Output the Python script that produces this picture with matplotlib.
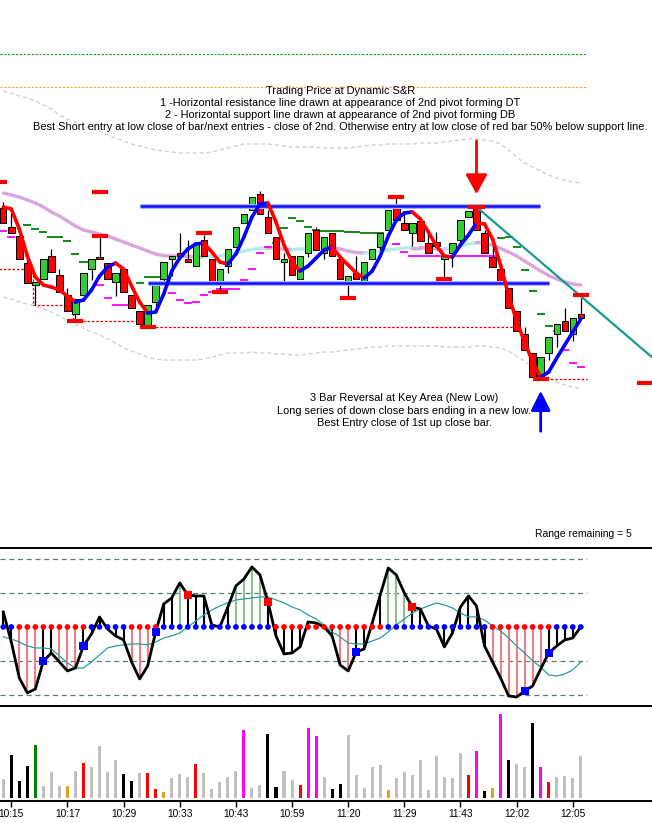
import numpy as np
import matplotlib
matplotlib.use("Agg")
import matplotlib.pyplot as plt

plt.rcParams['font.family'] = ['Liberation Sans', 'DejaVu Sans']

# ---------------- price bars (one per minute bar) ----------------
opens = [392, 373, 364, 337, 315, 321, 344, 325, 305, 286,
         305, 331, 343, 337, 318, 331, 305, 289, 274, 298,
         321, 341, 347, 341, 334, 360, 341, 315, 334, 353,
         377, 390, 406, 383, 363, 338, 344, 321, 347, 370,
         347, 367, 341, 318, 327, 318, 341, 353, 370, 393,
         377, 367, 379, 357, 358, 341, 347, 360, 383, 393,
         367, 343, 331, 312, 289, 266, 247, 223, 247, 266,
         279, 266, 286]
closes = [377, 367, 341, 317, 318, 341, 328, 308, 289, 301,
          327, 341, 341, 321, 327, 308, 292, 276, 295, 317,
          338, 344, 344, 338, 357, 344, 318, 331, 351, 373,
          386, 403, 386, 367, 341, 341, 325, 344, 367, 350,
          363, 344, 321, 324, 321, 338, 351, 367, 390, 380,
          370, 377, 359, 347, 354, 344, 357, 380, 389, 370,
          347, 333, 315, 292, 269, 250, 223, 243, 263, 276,
          269, 282, 282]
highs = [398, 387, 364, 341, 318, 341, 351, 331, 312, 301,
         327, 341, 363, 337, 327, 331, 305, 289, 295, 317,
         338, 344, 367, 360, 357, 365, 341, 331, 351, 373,
         386, 403, 409, 390, 363, 347, 344, 344, 367, 373,
         363, 367, 341, 324, 344, 338, 351, 367, 390, 402,
         388, 377, 379, 367, 368, 344, 357, 380, 389, 393,
         370, 355, 331, 312, 289, 273, 247, 243, 263, 276,
         292, 282, 302]
lows = [377, 367, 341, 317, 295, 321, 328, 308, 289, 280,
        305, 320, 341, 321, 304, 308, 292, 276, 274, 294,
        316, 324, 344, 338, 334, 344, 318, 310, 327, 353,
        377, 390, 386, 367, 341, 317, 325, 321, 343, 350,
        341, 344, 321, 303, 321, 315, 341, 350, 370, 380,
        370, 354, 359, 347, 353, 322, 333, 357, 383, 370,
        347, 333, 315, 292, 269, 250, 222, 222, 240, 253,
        269, 259, 282]

# fast trend average (red falling / blue rising)
trend = [393, 391, 371, 344, 323, 315, 313, 310, 304, 298,
         300, 310, 324, 333, 337, 331, 314, 298, 287, 288,
         306, 329, 342, 351, 356, 357, 348, 338, 336, 346,
         363, 383, 396, 397, 378, 355, 338, 329, 334, 342,
         350, 353, 343, 335, 327, 322, 329, 344, 364, 380,
         387, 388, 381, 368, 354, 344, 343, 355, 365, 377,
         376, 361, 335, 305, 279, 258, 238, 223, 228, 242,
         255, 268, 281]

# slow average (plum falling / pale cyan rising)
mid = [407, 405, 403, 400, 397, 393, 388, 384, 379, 374,
       370, 368, 366, 364, 361, 358, 355, 352, 349, 346,
       344.5, 344, 343.7, 343.5, 343.4, 343.3, 343.6, 344, 345, 347,
       349, 350.5, 351.5, 352, 351.5, 351, 350.5, 351, 351.5, 352,
       352.5, 353, 351, 349, 347.5, 347, 348, 349, 350, 351,
       352, 352.5, 352.5, 352, 351.5, 351.5, 352, 354, 356, 357.5,
       357, 355, 351.5, 348, 344, 339, 334, 329, 324.5, 321,
       318, 316, 315]

upper = [509, 507, 504, 502, 499, 495, 491, 485, 481, 478,
         474, 471, 469, 465, 462, 459, 456, 454, 452, 450,
         449, 448, 447, 447, 447, 447, 448, 450, 452, 454,
         456, 456, 456, 456, 455, 454, 453, 453, 453, 453,
         452, 452, 452, 452, 453, 454, 455, 455, 456, 456,
         456, 456, 457, 457, 457, 458, 459, 460, 461, 461,
         460, 459, 456, 450, 443, 437, 433, 429, 425, 422,
         420, 418, 417]
lower = [303, 301, 298, 296, 294, 291, 288, 284, 280, 276,
         272, 268, 265, 261, 257, 252, 249, 246, 243, 241,
         240, 240, 240, 240, 240, 241, 243, 245, 247, 247,
         247, 248, 247, 247, 246, 246, 245, 245, 246, 247,
         248, 248, 249, 250, 251, 252, 253, 253, 254, 254,
         254, 254, 254, 254, 254, 253, 253, 253, 253, 254,
         254, 253, 252, 249, 244, 239, 233, 228, 222, 218,
         215, 213, 211]

# short level marks
green_bars = [3, 4, 5, 6, 7, 8, 9, 10, 17, 18, 19, 20, 34, 35, 36, 37, 38, 39,
              40, 41, 42, 43, 44, 45, 46, 47, 62, 63, 64, 65, 66, 67, 68]
green_lvls = [375, 371, 368, 363, 363, 359, 346, 338, 317, 323, 323, 323, 357, 372,
              382, 379, 373, 370, 369, 369, 369, 368, 368, 367, 367, 367, 362, 363,
              353, 330, 309, 286, 274]
mag_bars = [0, 1, 11, 12, 13, 14, 15, 16, 20, 21, 22, 23, 24, 25, 26, 27, 28, 29,
            30, 31, 32, 33, 49, 50, 51, 52, 53, 54, 55, 56, 57, 58, 59, 60, 61,
            69, 70, 71, 72]
mag_lvls = [369, 363, 335, 315, 302, 295, 295, 295, 321, 307, 300, 297, 298, 305,
            308, 311, 311, 311, 320, 331, 347, 353, 356, 348, 344, 344, 344, 344,
            344, 344, 344, 344, 344, 344, 344, 269, 250, 237, 233]

# pivot marks
pivot_bars = [-0.5, 12, 12, 9, 18, 25, 27, 43, 49, 55, 59, 67, 72, 80]
pivot_lvls = [418, 408, 364, 279, 273, 367, 308, 302, 403, 321, 393, 221, 305, 217]

# stepped support (dotted)
sup_bars = [-0.5, 3.7, 8.7, 17.0, 64.0]
sup_lvls = [331, 295, 279, 273, 273]
low_bars = [66.0, 72.8]
low_lvls = [221, 221]

resist_lvl, resist_span = 394, (17.0, 66.9)
support_lvl, support_span = 317, (18.0, 68.0)
trendline_bars = [59, 81]
trendline_lvls = [393, 242]
top_green_lvl = 546
top_orange_lvl = 513

# ---------------- oscillator ----------------
osc = [15, -15, -51, -66, -62, -34, -26, -35, -44, -41,
       -19, -7, 10, -2, -9, -13, -35, -52, -39, -5,
       23, 29, 44, 32, 31, 31, 2, 0, 20, 41,
       48, 60, 52, 25, -9, -27, -26, -20, 5, 4,
       0, -9, -38, -44, -25, -22, 4, 32, 59, 52,
       34, 20, 18, 1, -2, -20, -6, 20, 31, 21,
       -19, -35, -51, -69, -70, -64, -59, -42, -26, -19,
       -13, -11, 0]
signal = [-10, -12, -15, -19, -21, -21, -22, -29, -36, -41,
          -41, -35, -28, -21, -19, -18, -17, -17, -18, -15,
          -11, -9, -6, 0, 6, 12, 17, 21, 24, 27,
          28, 29, 30, 30, 27, 24, 20, 17, 12, 8,
          2, -5, -10, -16, -17, -17, -14, -11, -5, 2,
          8, 14, 18, 21, 24, 22, 19, 14, 10, 10,
          7, 1, -4, -11, -19, -26, -34, -40, -48, -49,
          -47, -43, -35]
stem_codes = ("kkrrrkkrrr" "kkkkkkrrrk" "kkgkkkkkkg" "gggkkkkkkk"
              "kkrrkkkkgg" "gkkkkkkkkk" "krrrrrrrkk" "kkk")
dot_codes = ("bbrrrrrrrr" "rbbbbbrrrr" "bbbbbbbbbb" "bbbbrrrrrr"
             "rrrrrrrrbb" "bbbbbbbbbb" "brrrrrrrrb" "bbb")
sig_bars = [5, 10, 19, 23, 33, 44, 51, 65, 68]
sig_codes = "bbbrrbrbb"
osc_levels = [68, 34, -34, -68]

# ---------------- volume ----------------
volume = [1900, 4300, 1700, 3200, 5300, 1200, 2600, 1200, 1200, 2700,
          3500, 3100, 5200, 2600, 3800, 2400, 1700, 2500, 2500, 900,
          600, 2000, 2400, 2100, 3400, 2500, 900, 1600, 2100, 2700,
          6800, 1000, 1300, 6400, 1100, 2700, 1800, 1300, 7000, 6200,
          2100, 900, 1400, 6300, 2300, 1000, 3100, 3300, 800, 2000,
          2600, 2300, 3800, 800, 4200, 2100, 2000, 4500, 2300, 4700,
          700, 1000, 8400, 3800, 3400, 3100, 7500, 3100, 1600, 2100,
          2200, 2000, 4200]
vol_codes = ("akkkgaaaoa" "raaaakkarr" "oaaaraaaaa" "maakkaarmm"
             "akkaaaaaoa" "aaaaaaaarm" "komkaakmra" "aaa")

tick_bars = [1, 8, 15, 22, 29, 36, 43, 50, 57, 64, 71]
tick_labels = ['10:15', '10:17', '10:29', '10:33', '10:43', '10:59',
               '11:20', '11:29', '11:43', '12:02', '12:05']

note_top = ["Trading Price at Dynamic S&R",
            "1 -Horizontal resistance line drawn at appearance of 2nd pivot forming DT",
            "2 - Horizontal support line drawn at appearance of 2nd pivot forming DB",
            "Best Short entry at low close of bar/next entries - close of 2nd. "
            "Otherwise entry at low close of red bar 50% below support line."]
note_low = ["3 Bar Reversal at Key Area (New Low)",
            "Long series of down close bars ending in a new low.",
            "Best Entry close of 1st up close bar."]

# ---------------- figure ----------------
XMIN, XMAX = -0.41, 80.88
fig = plt.figure(figsize=(6.52, 8.23), dpi=100)
ax = fig.add_axes([0, 0.3341, 1, 0.6659])
ax_osc = fig.add_axes([0, 0.1422, 1, 0.1908])
ax_vol = fig.add_axes([0, 0.0267, 1, 0.1155])

bars = np.arange(len(opens))
o = np.array(opens)
c = np.array(closes)

# bands and slow average
ax.plot(bars, upper, color='#d2d2d2', lw=1, ls=(0, (3, 2)), zorder=1)
ax.plot(bars, lower, color='#d2d2d2', lw=1, ls=(0, (3, 2)), zorder=1)
for i in range(len(mid) - 1):
    col = '#dba6dc' if mid[i + 1] <= mid[i] else '#b2ecec'
    ax.plot([i, i + 1], [mid[i], mid[i + 1]], color=col, lw=2.4,
            solid_capstyle='round', zorder=2)

# top reference lines
ax.hlines(top_green_lvl, XMIN, 72.6, colors='#00a000', lw=0.8, linestyles=(0, (2, 1.5)))
ax.hlines(top_orange_lvl, XMIN, 72.6, colors='#f0a830', lw=0.8, linestyles=(0, (2, 1.5)))

# level marks
ax.hlines(green_lvls, np.array(green_bars) - 0.5, np.array(green_bars) + 0.5,
          colors='#008000', lw=1.3, zorder=3)
ax.hlines(mag_lvls, np.array(mag_bars) - 0.5, np.array(mag_bars) + 0.5,
          colors='#ff00ff', lw=1.3, zorder=3)

ax.plot(sup_bars, sup_lvls, drawstyle='steps-post', color='#e00000', lw=0.9,
        ls=(0, (2, 1.5)), zorder=3)
ax.plot(low_bars, low_lvls, color='#e00000', lw=0.9, ls=(0, (2, 1.5)), zorder=3)

# candles
up = c >= o
body_lo = np.minimum(o, c)
body_h = np.maximum(np.abs(c - o), 1.2)
ax.vlines(bars, lows, highs, colors='black', lw=0.9, zorder=4)
ax.bar(bars, body_h, bottom=body_lo, width=0.8,
       color=np.where(up, '#33cc33', '#ff0000'), edgecolor='black', lw=0.7, zorder=5)

# horizontal resistance / support
for lvl, span in [(resist_lvl, resist_span), (support_lvl, support_span)]:
    ax.hlines(lvl, *span, colors='#a8b0ff', lw=3.6, zorder=6)
    ax.hlines(lvl, *span, colors='#1010ff', lw=1.8, zorder=6)

# fast trend line
for i in range(len(trend) - 1):
    col = '#ff0000' if trend[i + 1] < trend[i] else '#0000ff'
    ax.plot([i, i + 1], [trend[i], trend[i + 1]], color=col, lw=2.6,
            solid_capstyle='round', zorder=7)

ax.plot(trendline_bars, trendline_lvls, color='#159a8c', lw=1.6, zorder=6)

ax.hlines(pivot_lvls, np.array(pivot_bars) - 1, np.array(pivot_bars) + 1,
          colors='#ff0000', lw=3, zorder=8)

ax.annotate('', xy=(59, 403), xytext=(59, 462),
            arrowprops=dict(arrowstyle='-|>,head_length=1.0,head_width=0.55',
                            color='#ff0000', lw=2, mutation_scale=12), zorder=9)
ax.annotate('', xy=(67, 212), xytext=(67, 166),
            arrowprops=dict(arrowstyle='-|>,head_length=1.0,head_width=0.5',
                            color='#0000ff', lw=2, mutation_scale=12), zorder=9)

for k, line in enumerate(note_top):
    ax.text(42.0, 509.5 - 12.2 * k, line, ha='center', va='center', fontsize=7.9)
for k, line in enumerate(note_low):
    ax.text(50.0, 202 - 12.5 * k, line, ha='center', va='center', fontsize=7.9)
ax.text(78.3, 66, 'Range remaining = 5', ha='right', va='center', fontsize=7.5)

ax.set_xlim(XMIN, XMAX)
ax.set_ylim(52, 600)
ax.set_xticks([])
ax.set_yticks([])
for s in ['top', 'left', 'right']:
    ax.spines[s].set_visible(False)
ax.spines['bottom'].set_linewidth(1.4)

# ---------------- oscillator panel ----------------
ax_osc.hlines(osc_levels, XMIN, 72.8, colors='#5f7b7b', lw=0.9, linestyles=(0, (4, 3)), zorder=1)
stem_col = {'k': 'black', 'r': '#f08080', 'g': '#8fbf8f'}
for i, v in enumerate(osc):
    ax_osc.vlines(i, 0, v, colors=stem_col[stem_codes[i]], lw=1.5, zorder=2)
ax_osc.plot(bars, signal, color='#2a9d9d', lw=0.9, zorder=3)
ax_osc.plot(bars, osc, color='black', lw=2, zorder=4)
dot_col = {'b': '#0000ff', 'r': '#ff0000'}
ax_osc.scatter(bars, np.zeros(len(bars)), s=17, c=[dot_col[k] for k in dot_codes],
               linewidths=0, zorder=5)
ax_osc.scatter(sig_bars, [osc[b] for b in sig_bars], s=34, marker='s',
               c=[dot_col[k] for k in sig_codes], linewidths=0, zorder=6)
ax_osc.set_xlim(XMIN, XMAX)
ax_osc.set_ylim(-79, 78)
ax_osc.set_xticks([])
ax_osc.set_yticks([])
for s in ax_osc.spines.values():
    s.set_visible(False)

# ---------------- volume panel ----------------
vol_col = {'a': '#c0c0c0', 'k': 'black', 'g': '#008000', 'o': '#daa520',
           'r': '#ff0000', 'm': '#ff00ff'}
ax_vol.bar(bars, volume, width=0.38, color=[vol_col[k] for k in vol_codes])
ax_vol.set_xlim(XMIN, XMAX)
ax_vol.set_ylim(-300, 9200)
ax_vol.set_yticks([])
ax_vol.set_xticks(tick_bars)
ax_vol.set_xticklabels(tick_labels)
ax_vol.tick_params(axis='x', direction='out', length=4, width=1, labelsize=7.3, pad=2)
for s in ['left', 'right']:
    ax_vol.spines[s].set_visible(False)
ax_vol.spines['top'].set_linewidth(1.4)
ax_vol.spines['bottom'].set_linewidth(1.4)

fig.savefig('out.png', dpi=100)
